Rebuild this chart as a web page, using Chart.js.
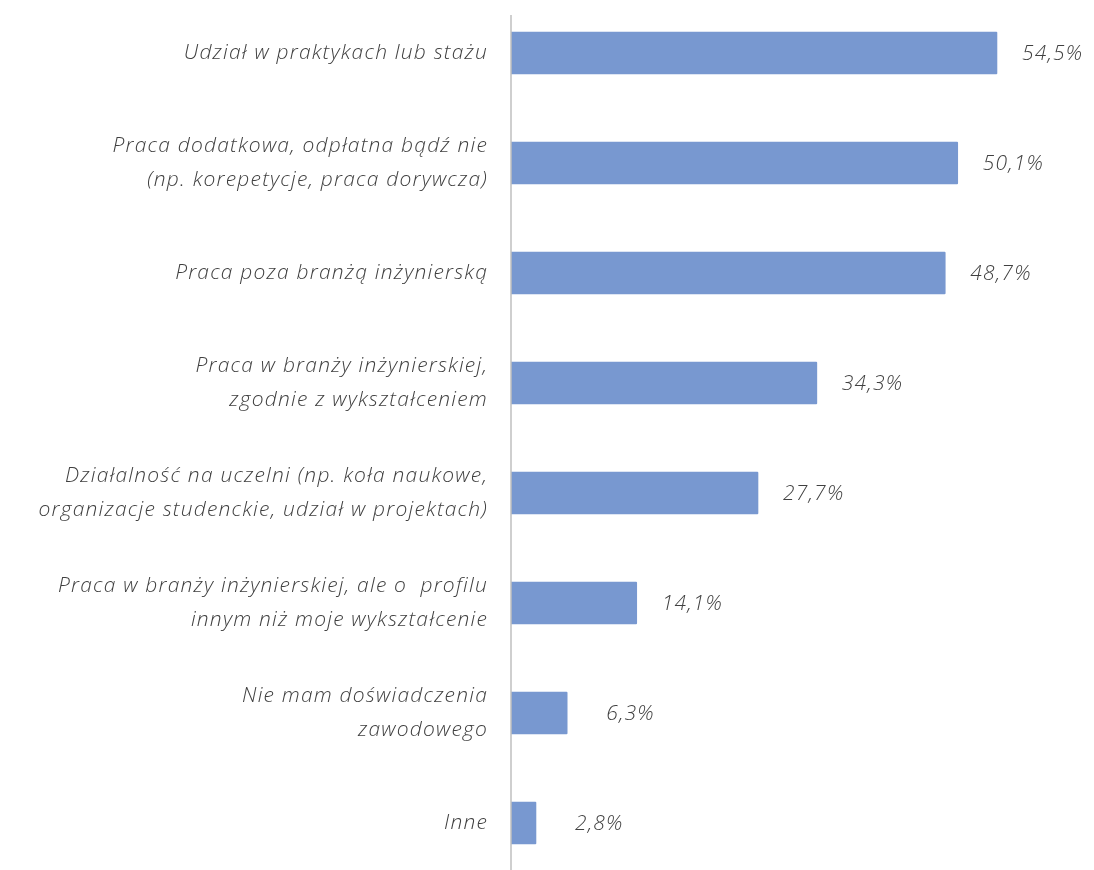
<!DOCTYPE html>
<html><head><meta charset="utf-8">
<script src="https://cdn.jsdelivr.net/npm/chart.js@4"></script>
<style>
html,body{margin:0;padding:0;background:#fff;overflow:hidden;}
#wrap{position:absolute;left:0;top:-42px;width:1094px;height:960px;}
</style></head><body>
<div id="wrap"><canvas id="c"></canvas></div>
<script>
const categories = [
  "Udział w praktykach lub stażu",
  ["Praca dodatkowa, odpłatna bądź nie", "(np. korepetycje, praca dorywcza)"],
  "Praca poza branżą inżynierską",
  ["Praca w branży inżynierskiej,", "zgodnie z wykształceniem"],
  ["Działalność na uczelni (np. koła naukowe,", "organizacje studenckie, udział w projektach)"],
  ["Praca w branży inżynierskiej, ale o  profilu", "innym niż moje wykształcenie"],
  ["Nie mam doświadczenia", "zawodowego"],
  "Inne"
];
const values = [54.5, 50.1, 48.7, 34.3, 27.7, 14.1, 6.3, 2.8];
const valueLabels = ["54,5%", "50,1%", "48,7%", "34,3%", "27,7%", "14,1%", "6,3%", "2,8%"];

const FONT = "'Open Sans', 'Lato', sans-serif";
const TEXT = "#404040";
const SPACING = "1.2px";

const spacingPlugin = {
  id: 'spacing',
  beforeDraw(chart) { chart.ctx.letterSpacing = SPACING; }
};

const axisLinePlugin = {
  id: 'axisLine',
  afterDatasetsDraw(chart) {
    const ctx = chart.ctx;
    const x = chart.scales.x.getPixelForValue(0);
    ctx.save();
    ctx.strokeStyle = '#bfbfbf';
    ctx.lineWidth = 1.5;
    ctx.beginPath();
    ctx.moveTo(x, chart.chartArea.top + 17);
    ctx.lineTo(x, chart.chartArea.bottom);
    ctx.stroke();
    ctx.restore();
  }
};

const valueLabelPlugin = {
  id: 'valueLabels',
  afterDatasetsDraw(chart) {
    const ctx = chart.ctx;
    const meta = chart.getDatasetMeta(0);
    ctx.save();
    ctx.letterSpacing = SPACING;
    ctx.font = "italic 300 21px " + FONT;
    ctx.fillStyle = TEXT;
    ctx.textAlign = "left";
    ctx.textBaseline = "middle";
    meta.data.forEach((bar, i) => {
      const off = values[i] < 10 ? 39 : 25;
      ctx.fillText(valueLabels[i], bar.x + off, bar.y + 1);
    });
    ctx.restore();
  }
};

new Chart(document.getElementById('c'), {
  type: 'bar',
  data: {
    labels: categories,
    datasets: [{
      data: values,
      backgroundColor: '#7898d0',
      borderWidth: 0,
      barThickness: 42,
      borderRadius: 1
    }]
  },
  options: {
    indexAxis: 'y',
    responsive: true,
    maintainAspectRatio: false,
    animation: false,
    layout: { padding: { top: 7, bottom: 2, left: 0, right: 48 } },
    plugins: { legend: { display: false }, tooltip: { enabled: false } },
    scales: {
      x: { display: false, min: 0, max: 60 },
      y: {
        afterFit(scale) { scale.width = 511; },
        grid: { display: false, drawTicks: false },
        border: { display: false },
        ticks: {
          padding: 23,
          color: TEXT,
          font: { family: FONT, size: 21, style: 'italic', weight: 300, lineHeight: 1.62 }
        }
      }
    }
  },
  plugins: [spacingPlugin, axisLinePlugin, valueLabelPlugin]
});
</script>
</body></html>
